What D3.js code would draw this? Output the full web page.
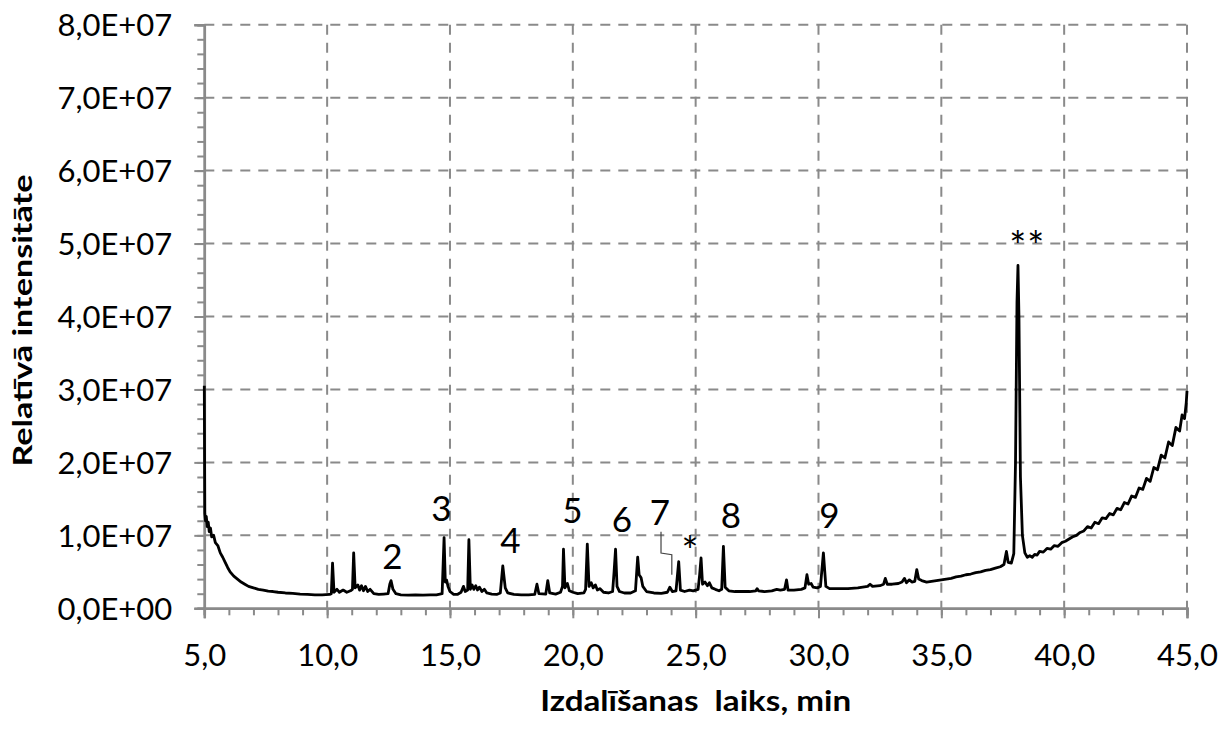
<!DOCTYPE html>
<html>
<head>
<meta charset="utf-8">
<script src="https://cdn.jsdelivr.net/npm/d3@7/dist/d3.min.js"></script>
<style>
body { margin: 0; background: #fff; }
text { font-family: Lato, "Open Sans", sans-serif; }
</style>
</head>
<body>
<div id="chart"></div>
<script>
// retention time, min
var retentionTime = [
	5.00, 5.02, 5.05, 5.08, 5.12, 5.16, 5.20, 5.25, 5.30, 5.38, 5.45, 5.55, 5.65, 5.75, 5.85, 5.95,
	6.05, 6.20, 6.35, 6.50, 6.65, 6.80, 7.00, 7.20, 7.40, 7.60, 7.80, 8.00, 8.30, 8.60, 8.90, 9.20,
	9.50, 9.80, 10.10, 10.17, 10.22, 10.28, 10.40, 10.50, 10.65, 10.80, 10.95, 11.03, 11.08, 11.14,
	11.25, 11.32, 11.40, 11.48, 11.56, 11.65, 11.75, 11.90, 12.10, 12.30, 12.48, 12.55, 12.60, 12.68,
	12.80, 13.00, 13.30, 13.60, 13.90, 14.20, 14.45, 14.68, 14.76, 14.81, 14.86, 14.92, 15.00, 15.15,
	15.30, 15.45, 15.55, 15.62, 15.72, 15.77, 15.83, 15.90, 15.97, 16.05, 16.12, 16.20, 16.30, 16.40,
	16.50, 16.70, 16.90, 17.05, 17.15, 17.25, 17.35, 17.60, 17.90, 18.20, 18.45, 18.54, 18.62, 18.90,
	18.98, 19.06, 19.30, 19.50, 19.58, 19.62, 19.68, 19.78, 19.86, 20.00, 20.20, 20.45, 20.52, 20.59,
	20.66, 20.75, 20.83, 20.92, 21.00, 21.10, 21.25, 21.45, 21.62, 21.68, 21.74, 21.80, 21.90, 22.10,
	22.35, 22.55, 22.64, 22.70, 22.78, 22.85, 23.00, 23.30, 23.60, 23.85, 23.95, 24.05, 24.20, 24.31,
	24.38, 24.55, 24.75, 24.90, 25.10, 25.16, 25.22, 25.28, 25.38, 25.48, 25.56, 25.66, 25.80, 25.95,
	26.06, 26.13, 26.20, 26.35, 26.60, 26.90, 27.20, 27.45, 27.50, 27.56, 27.80, 28.10, 28.30, 28.45,
	28.62, 28.70, 28.76, 29.00, 29.30, 29.45, 29.53, 29.60, 29.70, 29.78, 29.95, 30.08, 30.20, 30.30,
	30.45, 30.80, 31.20, 31.60, 32.00, 32.10, 32.20, 32.50, 32.65, 32.72, 32.80, 33.00, 33.25, 33.40,
	33.50, 33.58, 33.70, 33.80, 33.92, 34.00, 34.08, 34.20, 34.40, 34.60, 34.80, 35.00, 35.20, 35.40,
	35.60, 35.80, 36.00, 36.20, 36.40, 36.60, 36.80, 37.00, 37.20, 37.40, 37.55, 37.65, 37.72, 37.85,
	37.95, 38.02, 38.08, 38.12, 38.16, 38.22, 38.30, 38.40, 38.50, 38.60, 38.70, 38.80, 38.90, 39.00,
	39.15, 39.30, 39.45, 39.60, 39.75, 39.90, 40.05, 40.20, 40.35, 40.50, 40.65, 40.80, 40.95, 41.10,
	41.25, 41.40, 41.55, 41.70, 41.85, 42.00, 42.15, 42.30, 42.45, 42.60, 42.75, 42.90, 43.05, 43.20,
	43.35, 43.50, 43.65, 43.80, 43.95, 44.10, 44.25, 44.40, 44.55, 44.70, 44.80, 44.90, 44.97, 45.00
];
// relative intensity, x 1E+06
var intensity = [
	30.5, 13.0, 12.0, 12.6, 11.2, 11.8, 10.5, 11.0, 9.8, 10.0, 9.0, 8.6, 7.6, 7.0, 6.3, 5.6,
	5.0, 4.4, 4.0, 3.6, 3.3, 3.0, 2.8, 2.6, 2.5, 2.35, 2.3, 2.2, 2.1, 2.05, 1.95, 1.9,
	1.85, 1.85, 1.9, 2.0, 6.2, 2.2, 2.6, 2.2, 2.5, 2.2, 2.4, 2.6, 7.6, 2.8,
	3.2, 2.5, 3.1, 2.4, 3.0, 2.3, 2.6, 2.0, 1.9, 1.95, 2.0, 3.3, 3.8, 2.6,
	2.0, 1.85, 1.8, 1.85, 1.8, 1.85, 1.85, 2.0, 9.7, 3.6, 3.9, 3.0, 2.3, 1.9,
	1.9, 2.2, 3.0, 2.3, 2.5, 9.4, 2.6, 3.2, 2.6, 3.1, 2.5, 2.9, 2.3, 2.6,
	2.1, 1.95, 1.9, 2.1, 5.8, 2.8, 2.1, 1.9, 1.85, 1.85, 1.9, 3.3, 2.0, 1.95,
	3.8, 2.1, 1.95, 2.2, 3.0, 8.1, 2.8, 3.4, 2.4, 2.2, 2.0, 2.1, 2.6, 8.8,
	3.0, 3.5, 2.8, 3.2, 2.5, 2.7, 2.2, 2.1, 2.3, 5.0, 8.1, 3.0, 2.3, 2.1,
	2.1, 2.4, 7.0, 4.6, 4.2, 3.0, 2.3, 2.1, 2.05, 2.2, 2.9, 2.3, 2.4, 6.4,
	2.5, 2.3, 2.5, 2.4, 2.6, 4.5, 6.9, 3.3, 3.6, 3.1, 3.5, 2.8, 2.6, 2.4,
	2.6, 8.5, 2.9, 2.4, 2.3, 2.3, 2.3, 2.4, 2.7, 2.4, 2.3, 2.4, 2.6, 2.5,
	2.6, 3.9, 2.5, 2.5, 2.6, 2.8, 4.6, 3.3, 3.4, 2.9, 2.8, 3.0, 7.6, 3.0,
	2.7, 2.7, 2.7, 2.8, 3.0, 3.3, 3.0, 3.1, 3.3, 4.1, 3.3, 3.3, 3.4, 3.6,
	4.1, 3.5, 3.9, 3.6, 3.7, 5.3, 4.0, 3.8, 3.6, 3.7, 3.8, 3.9, 4.0, 4.1,
	4.3, 4.4, 4.6, 4.7, 4.9, 5.0, 5.2, 5.3, 5.5, 5.7, 6.0, 7.8, 6.3, 6.2,
	7.5, 20.0, 42.0, 47.0, 40.0, 18.0, 10.0, 7.6, 7.0, 7.2, 7.0, 7.4, 7.3, 7.8,
	7.7, 8.2, 8.1, 8.6, 8.5, 9.0, 9.2, 9.5, 9.8, 10.0, 10.4, 10.6, 11.2, 11.0,
	11.8, 11.6, 12.4, 12.3, 13.0, 12.8, 13.7, 13.5, 14.5, 14.3, 15.4, 15.2, 16.5, 16.3,
	17.8, 17.4, 19.3, 19.0, 21.0, 20.6, 22.8, 22.3, 24.8, 24.3, 26.5, 26.0, 28.2, 29.8
];

var xTicks = [5, 10, 15, 20, 25, 30, 35, 40, 45];
var xMinorTicks = d3.range(5, 46, 1);
var yTicks = [0, 10, 20, 30, 40, 50, 60, 70, 80];
var yMinorTicks = d3.range(0, 81, 2);

// peak annotations (time, level x 1E+06 of the text baseline)
var peakLabels = ["2", "3", "4", "5", "6", "7", "8", "9", "*", "**"];
var peakLabelTime = [12.66, 14.65, 17.46, 19.98, 22.0, 23.55, 26.44, 30.44, 24.77, 38.5];
var peakLabelLevel = [5.4, 11.9, 7.6, 11.65, 10.5, 11.4, 11.0, 11.0, 5.8, 47.6];

// leader line from label 7 to its peak
var bracketTime = [23.59, 23.59, 24.03, 24.03];
var bracketLevel = [10.5, 7.58, 7.35, 4.61];

function formatExp(v) {
	if (v == 0) return "0,0E+00";
	var value = v * 1e6;
	var exp = Math.floor(Math.log10(value));
	var mant = (value / Math.pow(10, exp)).toFixed(1).replace(".", ",");
	return mant + "E+" + (exp < 10 ? "0" : "") + exp;
}

function drawChromatogram(id) {
	var w = 1224, h = 729;
	var margin = {left: 204.3, right: 37, top: 24.7, bottom: 120.7};
	var iw = w - margin.left - margin.right;
	var ih = h - margin.top - margin.bottom;
	var gridColor = "#8a8a8a";

	var svg = d3.select("#" + id).append("svg")
		.attr("width", w)
		.attr("height", h)
		.style("display", "block");

	svg.append("rect").attr("width", w).attr("height", h).attr("fill", "#fff");

	var chart = svg.append("g")
		.attr("transform", "translate(" + margin.left + "," + margin.top + ")");

	var x = d3.scaleLinear().domain([5, 45]).range([0, iw]);
	var y = d3.scaleLinear().domain([0, 80]).range([ih, 0]);

	// grid
	chart.append("g")
		.selectAll("line.hgrid")
		.data(yTicks.filter(function(d) { return d > 0; }))
		.enter().append("line")
		.attr("x1", 0).attr("x2", iw)
		.attr("y1", function(d) { return y(d); })
		.attr("y2", function(d) { return y(d); })
		.attr("stroke", gridColor)
		.attr("stroke-width", 2)
		.attr("stroke-dasharray", "10,8");

	chart.append("g")
		.selectAll("line.vgrid")
		.data(xTicks.filter(function(d) { return d > 5; }))
		.enter().append("line")
		.attr("y1", 0).attr("y2", ih)
		.attr("x1", function(d) { return x(d); })
		.attr("x2", function(d) { return x(d); })
		.attr("stroke", gridColor)
		.attr("stroke-width", 2)
		.attr("stroke-dasharray", "10,8");

	// minor ticks
	var yMinor = d3.axisLeft(y).tickValues(yMinorTicks).tickSize(7).tickFormat("");
	var xMinor = d3.axisBottom(x).tickValues(xMinorTicks).tickSize(7).tickFormat("");
	chart.append("g").call(yMinor);
	chart.append("g").attr("transform", "translate(0," + ih + ")").call(xMinor);

	// major ticks with labels
	var yAxis = d3.axisLeft(y).tickValues(yTicks).tickSize(10).tickPadding(22).tickFormat(formatExp);
	var xAxis = d3.axisBottom(x).tickValues(xTicks).tickSize(10).tickPadding(26)
		.tickFormat(function(d) { return d3.format(".1f")(d).replace(".", ","); });
	chart.append("g").attr("class", "yaxis").call(yAxis);
	chart.append("g").attr("class", "xaxis").attr("transform", "translate(0," + ih + ")").call(xAxis);

	chart.selectAll(".domain").attr("stroke", gridColor).attr("stroke-width", 2.5);
	chart.selectAll(".tick line").attr("stroke", gridColor).attr("stroke-width", 2);
	chart.selectAll(".tick text")
		.attr("fill", "#000")
		.style("font-family", "Lato, 'Open Sans', sans-serif")
		.style("font-size", "31px");
	chart.selectAll(".xaxis .tick text").attr("dy", "0.71em");
	chart.selectAll(".yaxis .tick text").attr("dy", "0.35em");

	// trace
	var points = retentionTime.map(function(t, i) { return [t, intensity[i]]; });
	var line = d3.line()
		.x(function(d) { return x(d[0]); })
		.y(function(d) { return y(d[1]); });

	chart.append("path")
		.datum(points)
		.attr("d", line)
		.attr("fill", "none")
		.attr("stroke", "#000")
		.attr("stroke-width", 2.8)
		.attr("stroke-linejoin", "round");

	// leader line for peak 7
	var bracket = bracketTime.map(function(t, i) { return [t, bracketLevel[i]]; });
	chart.append("path")
		.datum(bracket)
		.attr("d", line)
		.attr("fill", "none")
		.attr("stroke", "#444")
		.attr("stroke-width", 1.2);

	// peak labels
	chart.selectAll("text.peak")
		.data(peakLabels)
		.enter().append("text")
		.attr("class", "peak")
		.attr("x", function(d, i) { return x(peakLabelTime[i]); })
		.attr("y", function(d, i) { return y(peakLabelLevel[i]); })
		.attr("text-anchor", "middle")
		.attr("font-size", function(d) { return d.charAt(0) == "*" ? "40px" : "35px"; })
		.attr("letter-spacing", function(d) { return d == "**" ? "1px" : null; })
		.attr("fill", "#000")
		.text(function(d) { return d; });

	// axis titles
	svg.append("text")
		.attr("x", margin.left + iw / 2)
		.attr("y", 711)
		.attr("text-anchor", "middle")
		.attr("font-size", "28px")
		.attr("font-weight", "bold")
		.attr("fill", "#000")
		.attr("textLength", 311)
		.attr("lengthAdjust", "spacingAndGlyphs")
		.attr("xml:space", "preserve")
		.style("white-space", "pre")
		.text("Izdalīšanas  laiks, min");

	svg.append("text")
		.attr("transform", "translate(32," + (margin.top + ih / 2 + 4) + ") rotate(-90)")
		.attr("text-anchor", "middle")
		.attr("font-size", "27px")
		.attr("font-weight", "bold")
		.attr("fill", "#000")
		.attr("textLength", 292)
		.attr("lengthAdjust", "spacingAndGlyphs")
		.text("Relatīvā intensitāte");

	return svg.node();
}

drawChromatogram("chart");
</script>
</body>
</html>
